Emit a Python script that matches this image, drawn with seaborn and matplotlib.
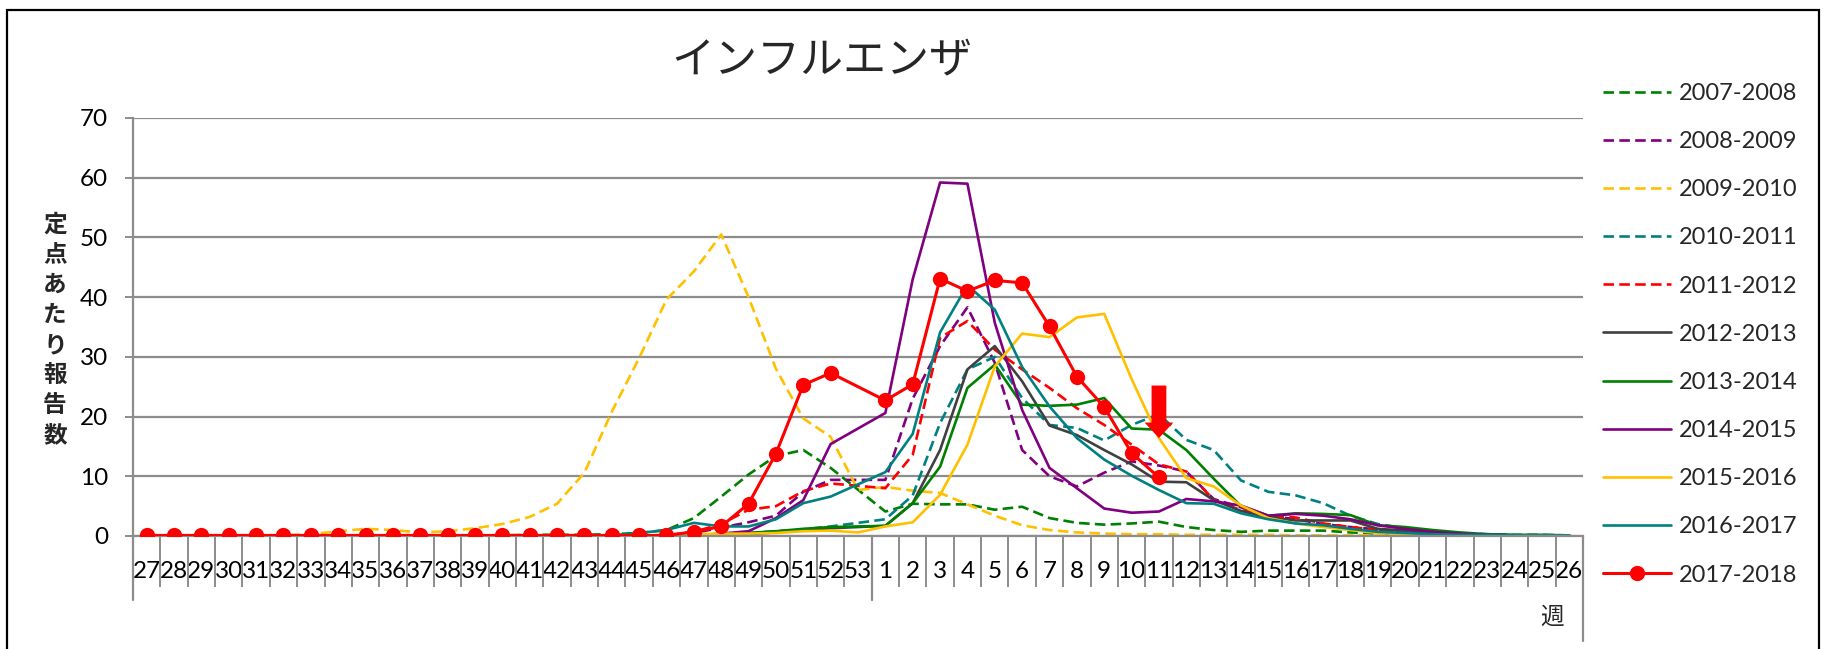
import numpy as np
import pandas as pd
import matplotlib
matplotlib.use("Agg")
import matplotlib.pyplot as plt
import matplotlib.transforms as mtransforms
import seaborn as sns
from matplotlib.lines import Line2D
from matplotlib.patches import Rectangle

nan = np.nan

# 週ラベル (27週〜53週, 1週〜26週)
WEEKS = [str(w) for w in range(27, 54)] + [str(w) for w in range(1, 27)]

# 各シーズンの定点あたり報告数 (27..53 / 1..26)
S_0708 = [0.1] * 14 + [0.2, 0.2, 0.2, 0.3, 0.5, 1.0, 3.0, 6.6, 10.3, 13.4, 14.4, 11.4, nan] + \
         [4.1, 5.4, 5.3, 5.3, 4.4, 4.9, 3.0, 2.2, 1.9, 2.1, 2.4, 1.5, 1.0, 0.7, 0.9, 0.9, 0.9, 0.6, 0.4, 0.3,
          0.2, 0.1, 0.1, 0.1, 0.1, 0.1]
S_0809 = [0.1] * 20 + [0.5, 1.4, 2.3, 3.4, 7.4, 9.4, nan] + \
         [9.4, 23.0, 31.8, 38.3, 29.0, 14.4, 10.0, 8.3, 10.6, 12.5, 11.8, 10.8, 6.2, 4.8, 3.4, 2.8, 2.0, 1.5,
          1.1, 0.8, 0.5, 0.3, 0.2, 0.1, 0.1, 0.1]
S_0910 = [0.1] * 6 + [0.3, 0.8, 1.2, 1.0, 0.6, 0.8, 1.3, 2.0, 3.2, 5.4, 10.6, 20.8, 29.8, 39.6, 44.3, 50.5,
                      40.0, 28.0, 19.7, 16.6, 7.7] + \
         [8.2, 7.6, 7.2, 5.3, 3.4, 1.8, 1.0, 0.6, 0.4, 0.3, 0.3, 0.2, 0.2, 0.2, 0.2, 0.1, 0.1, 0.1, 0.1, 0.1,
          0.1, 0.1, 0.1, 0.1, 0.1, 0.1]
S_1011 = [0.1] * 20 + [0.2, 0.3, 0.5, 0.8, 1.1, 1.6, nan] + \
         [2.8, 6.8, 18.9, 27.9, 30.0, 23.1, 18.6, 18.1, 16.0, 18.6, 20.4, 16.1, 14.4, 9.3, 7.4, 6.8, 5.5, 3.4,
          2.0, 1.3, 0.8, 0.5, 0.3, 0.2, 0.2, 0.1]
S_1112 = [0.1] * 20 + [0.7, 2.0, 4.4, 5.0, 7.5, 8.8, nan] + \
         [8.0, 13.6, 33.2, 36.0, 31.2, 27.9, 24.8, 21.4, 18.6, 15.3, 12.0, 10.8, 6.1, 4.3, 3.4, 3.1, 2.1, 1.5,
          1.0, 0.5, 0.3, 0.2, 0.1, 0.1, 0.1, 0.1]
S_1213 = [0.1] * 22 + [0.3, 0.6, 1.0, 1.3, nan] + \
         [1.7, 5.5, 14.4, 27.9, 31.8, 25.9, 18.5, 16.9, 14.4, 12.0, 9.1, 9.0, 6.0, 4.2, 3.1, 2.6, 2.6, 2.6,
          1.2, 0.9, 0.6, 0.4, 0.2, 0.1, 0.1, 0.1]
S_1314 = [0.1] * 22 + [0.5, 0.8, 1.2, 1.5, nan] + \
         [1.7, 5.5, 11.6, 24.8, 28.7, 22.0, 21.8, 22.0, 23.1, 18.0, 17.8, 14.4, 9.6, 5.0, 3.4, 3.8, 3.7, 3.5,
          1.8, 1.5, 1.0, 0.6, 0.3, 0.2, 0.2, 0.1]
S_1415 = [0.1] * 21 + [0.4, 0.8, 3.0, 6.0, 15.4, nan] + \
         [20.6, 43.0, 59.2, 59.0, 35.7, 21.1, 11.4, 8.0, 4.6, 3.9, 4.1, 6.2, 5.8, 5.1, 3.4, 3.7, 3.4, 2.8,
          1.8, 1.2, 0.7, 0.4, 0.2, 0.1, 0.1, 0.1]
S_1516 = [0.1] * 20 + [0.3, 0.4, 0.4, 0.5, 0.8, 0.9, 0.6] + \
         [1.6, 2.3, 6.9, 15.3, 28.4, 33.9, 33.3, 36.6, 37.2, 26.3, 16.4, 9.7, 8.3, 5.1, 3.0, 2.1, 1.5, 1.0,
          0.5, 0.3, 0.2, 0.1, 0.1, 0.1, 0.1, 0.1]
S_1617 = [0.1] * 18 + [0.5, 1.0, 2.2, 1.6, 1.6, 2.8, 5.5, 6.6, nan] + \
         [10.7, 17.1, 34.1, 42.0, 37.9, 28.3, 21.7, 16.4, 12.8, 10.1, 7.7, 5.5, 5.4, 3.8, 2.8, 2.1, 1.8, 1.2,
          0.7, 0.5, 0.3, 0.2, 0.2, 0.1, 0.1, 0.1]
S_1718 = [0.1] * 20 + [0.7, 1.6, 5.4, 13.8, 25.3, 27.3, nan] + \
         [22.7, 25.4, 43.1, 41.0, 42.8, 42.4, 35.1, 26.7, 21.6, 13.9, 9.8] + [nan] * 15

SEASONS = ["2007-2008", "2008-2009", "2009-2010", "2010-2011", "2011-2012", "2012-2013",
           "2013-2014", "2014-2015", "2015-2016", "2016-2017", "2017-2018"]
VALUES = [S_0708, S_0809, S_0910, S_1011, S_1112, S_1213, S_1314, S_1415, S_1516, S_1617, S_1718]
COLORS = ["#008000", "#800080", "#FFC000", "#008080", "#FF0000", "#404040",
          "#008000", "#800080", "#FFC000", "#008080", "#FF0000"]
DASHED = [True, True, True, True, True, False, False, False, False, False, False]

# 矢印 (11週)
ARROW_WEEK = "11"
ARROW_FROM, ARROW_TO = 25.2, 16.4

W, H = 1829, 649
GRID = "#8c8c8c"

sns.set_theme(style="white")
plt.rcParams['font.family'] = ['Lato', 'Noto Sans CJK JP', 'DejaVu Sans']

fig = plt.figure(figsize=(W / 100, H / 100), dpi=100)
ax = fig.add_axes([133 / W, 1 - 536 / H, 1450 / W, 418 / H])

pos = np.arange(len(WEEKS))
handles = []
for name, vals, col, dashed in zip(SEASONS, VALUES, COLORS, DASHED):
    df = pd.DataFrame({"pos": pos, "value": vals}).dropna()
    ls = (0, (4, 2)) if dashed else "-"
    if name == "2017-2018":
        sns.lineplot(data=df, x="pos", y="value", ax=ax, color=col, linewidth=2.2,
                     marker="o", markersize=11, markeredgewidth=0, zorder=5)
        handles.append(Line2D([], [], color=col, linewidth=2.2, marker="o", markersize=11,
                              markeredgewidth=0))
    else:
        sns.lineplot(data=df, x="pos", y="value", ax=ax, color=col, linewidth=1.9, linestyle=ls)
        handles.append(Line2D([], [], color=col, linewidth=1.9, linestyle=ls))

# 軸
ax.set_xlim(-0.5, len(WEEKS) - 0.5)
ax.set_ylim(0, 70)
ax.set_yticks(np.arange(0, 71, 10))
ax.yaxis.grid(True, color=GRID, linewidth=1.6)
ax.set_axisbelow(True)
ax.set_xlabel("")
ax.set_ylabel("")
for s in ["top", "right"]:
    ax.spines[s].set_visible(False)
for s in ["left", "bottom"]:
    ax.spines[s].set_color(GRID)
    ax.spines[s].set_linewidth(1.6)

ax.set_xticks(pos)
ax.set_xticklabels(WEEKS)
ax.set_xticks(np.arange(-0.5, len(WEEKS)), minor=True)
ax.tick_params(axis="x", which="major", length=0, pad=18, labelsize=17.5, labelcolor="black")
ax.tick_params(axis="x", which="minor", length=37, width=1.4, color=GRID, direction="out",
               bottom=True)
ax.tick_params(axis="y", length=6, width=1.4, color=GRID, pad=12, labelsize=17.5,
               labelcolor="black", left=True)

# 年区切りの長い線
trans = mtransforms.blended_transform_factory(ax.transData, ax.transAxes)
for xv, ylow in [(-0.5, -0.153), (26.5, -0.153), (len(WEEKS) - 0.5, -0.25)]:
    ax.plot([xv, xv], [0, ylow], transform=trans, color=GRID, linewidth=1.6, clip_on=False)

# 矢印
ai = WEEKS.index(ARROW_WEEK)
ax.arrow(ai, ARROW_FROM, 0, ARROW_TO - ARROW_FROM, width=0.54, head_width=1.05,
         head_length=2.6, length_includes_head=True, color="#FF0000", linewidth=0, zorder=6)

# 凡例
ax.legend(handles, SEASONS, loc="upper left", bbox_to_anchor=(1603 / W, 1 - 83 / H),
          bbox_transform=fig.transFigure, frameon=False, fontsize=17, handlelength=2.9,
          handletextpad=0.3, labelspacing=1.15, borderpad=0, borderaxespad=0)

# タイトル・軸ラベル
fig.text(822 / W, 1 - 60 / H, "インフルエンザ", ha="center", va="center", fontsize=31,
         family=["Noto Sans CJK JP"])
fig.text(55 / W, 1 - 330 / H, "\n".join("定点あたり報告数"), ha="center", va="center",
         fontsize=17, fontweight="bold", linespacing=1.32, family=["Noto Sans CJK JP"])
fig.text(1552 / W, 1 - 617 / H, "週", ha="center", va="center", fontsize=17,
         family=["Noto Sans CJK JP"])

# 外枠
fig.patches.append(Rectangle((7 / W, -0.05), (1819 - 7) / W, 1 - 10 / H + 0.05,
                             transform=fig.transFigure, fill=False, edgecolor="black",
                             linewidth=1.6, clip_on=False))

fig.savefig("out.png", dpi=100)
